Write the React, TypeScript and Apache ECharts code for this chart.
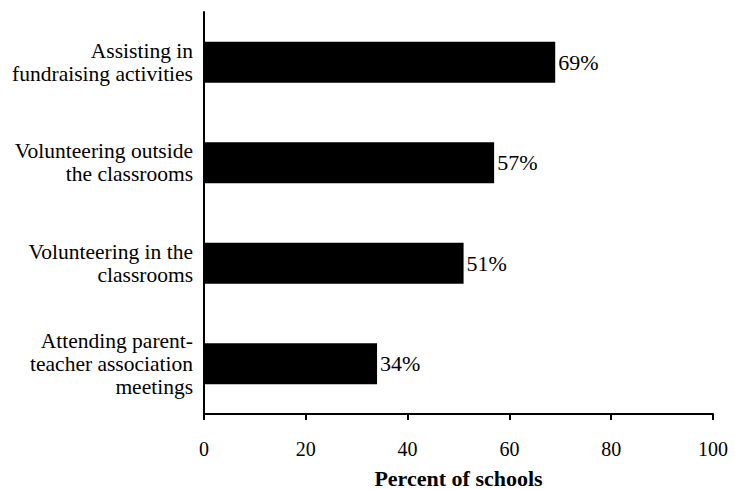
import React, { useEffect, useRef } from "react";
import * as echarts from "echarts";

const categories = [
  "Assisting in\nfundraising activities",
  "Volunteering outside\nthe classrooms",
  "Volunteering in the\nclassrooms",
  "Attending parent-\nteacher association\nmeetings",
];
const values = [69, 57, 51, 34];
const xTicks = [0, 20, 40, 60, 80, 100];
const xAxisName = "Percent of schools";

export default function App() {
  const ref = useRef<HTMLDivElement>(null);
  useEffect(() => {
    if (!ref.current) return;
    const chart = echarts.init(ref.current, undefined, { renderer: "svg" });
    const font = "'Liberation Serif', 'Times New Roman', serif";
    chart.setOption({
      animation: false,
      backgroundColor: "#ffffff",
      grid: {
        left: 204,
        right: 22,
        top: 12,
        bottom: 75,
        containLabel: false,
        outerBoundsMode: "none",
      },
      xAxis: {
        type: "value",
        min: xTicks[0],
        max: xTicks[xTicks.length - 1],
        interval: 20,
        name: xAxisName,
        nameLocation: "middle",
        nameGap: 53,
        nameTextStyle: {
          fontFamily: font,
          fontSize: 22,
          fontWeight: "bold",
          color: "#000",
          verticalAlign: "top",
        },
        axisLine: { show: true, lineStyle: { color: "#000", width: 2 } },
        axisTick: { show: true, length: 6, lineStyle: { color: "#000", width: 2 } },
        axisLabel: { fontFamily: font, fontSize: 20, color: "#000", margin: 25 },
        splitLine: { show: false },
      },
      yAxis: {
        type: "category",
        data: categories,
        inverse: true,
        axisLine: { show: true, lineStyle: { color: "#000", width: 2 } },
        axisTick: { show: false },
        axisLabel: {
          fontFamily: font,
          fontSize: 21.5,
          color: "#000",
          margin: 11,
          lineHeight: 23,
          align: "right",
        },
      },
      series: [
        {
          type: "bar",
          data: values,
          barWidth: 41,
          itemStyle: { color: "#000" },
          label: {
            show: true,
            position: "right",
            distance: 3,
            formatter: (p: any) => `${p.value}%`,
            fontFamily: font,
            fontSize: 22,
            color: "#000",
          },
        },
      ],
    });
    return () => chart.dispose();
  }, []);
  return (
    <div
      ref={ref}
      style={{ position: "fixed", left: 0, top: 0, width: 735, height: 489 }}
    />
  );
}
